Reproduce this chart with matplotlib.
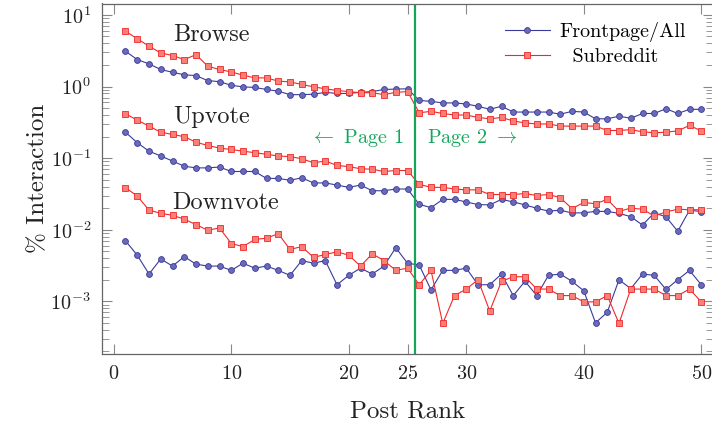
import numpy as np
import matplotlib
matplotlib.use("Agg")
import matplotlib.pyplot as plt

plt.rcParams.update({
    'font.family': 'cmr10',
    'mathtext.fontset': 'cm',
    'axes.unicode_minus': False,
    'axes.formatter.use_mathtext': True,
})

rank = np.arange(1, 51)

# Browse
browse_front = [3.11, 2.38, 2.07, 1.73, 1.58, 1.46, 1.42, 1.21, 1.17, 1.04,
                0.99, 0.97, 0.91, 0.86, 0.77, 0.77, 0.78, 0.83, 0.80, 0.80,
                0.83, 0.85, 0.91, 0.92, 0.93,
                0.64, 0.62, 0.59, 0.59, 0.57, 0.53, 0.48, 0.53, 0.44, 0.44,
                0.44, 0.44, 0.41, 0.45, 0.44, 0.354, 0.354, 0.385, 0.36, 0.42,
                0.42, 0.49, 0.42, 0.48, 0.48]
browse_sub = [5.9, 4.67, 3.65, 2.95, 2.71, 2.38, 2.79, 1.92, 1.73, 1.60,
              1.44, 1.32, 1.32, 1.19, 1.16, 1.07, 0.99, 0.93, 0.88, 0.85,
              0.82, 0.82, 0.77, 0.83, 0.85,
              0.43, 0.45, 0.42, 0.40, 0.40, 0.37, 0.354, 0.37, 0.33, 0.31,
              0.30, 0.30, 0.28, 0.28, 0.28, 0.28, 0.243, 0.243, 0.25, 0.233,
              0.226, 0.23, 0.24, 0.286, 0.24]

# Upvote
up_front = [0.23, 0.164, 0.125, 0.107, 0.091, 0.077, 0.073, 0.073, 0.075, 0.065,
            0.065, 0.065, 0.052, 0.052, 0.049, 0.053, 0.045, 0.045, 0.042, 0.039,
            0.042, 0.035, 0.035, 0.037, 0.037,
            0.0226, 0.0203, 0.0265, 0.0265, 0.0244, 0.0224, 0.0222, 0.0265, 0.0244, 0.0222,
            0.0199, 0.0182, 0.0187, 0.0171, 0.0172, 0.018, 0.018, 0.0169, 0.0152, 0.0116,
            0.0172, 0.0151, 0.0095, 0.0187, 0.0179]
up_sub = [0.416, 0.339, 0.28, 0.23, 0.214, 0.199, 0.167, 0.150, 0.138, 0.132,
          0.125, 0.119, 0.113, 0.107, 0.105, 0.098, 0.086, 0.091, 0.079, 0.076,
          0.071, 0.070, 0.065, 0.067, 0.067,
          0.043, 0.039, 0.039, 0.037, 0.036, 0.036, 0.031, 0.031, 0.031, 0.032,
          0.030, 0.031, 0.028, 0.0197, 0.024, 0.023, 0.0265, 0.018, 0.020, 0.0193,
          0.0155, 0.0177, 0.0193, 0.019, 0.019]

# Downvote
down_front = [0.0070, 0.0044, 0.0024, 0.0039, 0.0031, 0.0042, 0.0033, 0.0031, 0.0031, 0.0027,
              0.0034, 0.0029, 0.0031, 0.0027, 0.0023, 0.0037, 0.0034, 0.0037, 0.0017, 0.0023,
              0.0029, 0.0024, 0.0031, 0.0056, 0.0034,
              0.0032, 0.00144, 0.0027, 0.0027, 0.0029, 0.0017, 0.0017, 0.0024, 0.0012, 0.0019,
              0.0012, 0.0023, 0.0024, 0.0019, 0.0014, 0.0005, 0.0007, 0.0020, 0.0015, 0.0024,
              0.0023, 0.00146, 0.0020, 0.0027, 0.0017]
down_sub = [0.0387, 0.0295, 0.0188, 0.0169, 0.0159, 0.0140, 0.0118, 0.0098, 0.0106, 0.0064,
            0.0058, 0.0073, 0.0076, 0.0088, 0.0053, 0.0058, 0.0041, 0.0045, 0.0049, 0.0044,
            0.0031, 0.0046, 0.0037, 0.0027, 0.0029,
            0.0017, 0.0027, 0.00049, 0.0012, 0.00148, 0.0020, 0.00073, 0.0019, 0.0022, 0.0022,
            0.00148, 0.00148, 0.0012, 0.0012, 0.00098, 0.00098, 0.0012, 0.00049, 0.00148, 0.00148,
            0.00148, 0.0012, 0.0012, 0.00148, 0.00098]

blue_line, blue_face = '#3a3a9c', '#6a6ab8'
red_line, red_face = '#f02828', '#f88078'
green = '#12a65a'

fig = plt.figure(figsize=(7.12, 4.23), dpi=100)
ax = fig.add_axes([102 / 712, 1 - 353.5 / 423, 611 / 712, 350 / 423])

front_kw = dict(color=blue_line, lw=0.8, marker='o', ms=4.2,
                mfc=blue_face, mec=blue_line, mew=0.6)
sub_kw = dict(color=red_line, lw=0.8, marker='s', ms=4.2,
              mfc=red_face, mec=red_line, mew=0.6)

for i, (f, s) in enumerate([(browse_front, browse_sub), (up_front, up_sub),
                            (down_front, down_sub)]):
    # leading spaces roughly centre the shorter legend entry, as in the original
    ax.plot(rank, f, label='Frontpage/All' if i == 0 else None, **front_kw)
    ax.plot(rank, s, label='  Subreddit' if i == 0 else None, **sub_kw)

ax.axvline(25.6, color=green, lw=1.6)

ax.set_yscale('log')
ax.set_xlim(-1, 51)
ax.set_ylim(10 ** -3.73, 10 ** 1.16)
ax.set_xticks([0, 10, 20, 25, 30, 40, 50])

for name, x, y in [('Browse', 8.35, 5.26), ('Upvote', 8.35, 0.378), ('Downvote', 9.5, 0.0238)]:
    ax.text(x, y, name, fontsize=17.5, ha='center', va='center', color='#222222')
ax.text(20.7, 0.19, r'$\leftarrow$ Page 1', fontsize=14.5, color=green,
        ha='center', va='center')
ax.text(30.5, 0.19, r'Page 2 $\rightarrow$', fontsize=14.5, color=green,
        ha='center', va='center')

for sp in ax.spines.values():
    sp.set_color('#666666')
    sp.set_linewidth(0.9)
ax.tick_params(which='both', direction='in', top=True, right=True, color='#888888',
               labelsize=14.5, labelcolor='#222222')
ax.tick_params(which='major', length=7.5, width=0.8, pad=8)
ax.tick_params(which='minor', length=5, width=0.6)
ax.xaxis.set_minor_locator(matplotlib.ticker.NullLocator())

ax.set_xlabel('Post Rank', fontsize=18, labelpad=13, color='#222222')
ax.set_ylabel('% Interaction', fontsize=18, labelpad=1, color='#222222')

ax.legend(loc='upper right', bbox_to_anchor=(0.985, 1.0), frameon=False,
          fontsize=14.5, handlelength=2.25, handletextpad=0.45,
          markerscale=1.0, labelspacing=0.3)

fig.savefig('out.png', dpi=100)
